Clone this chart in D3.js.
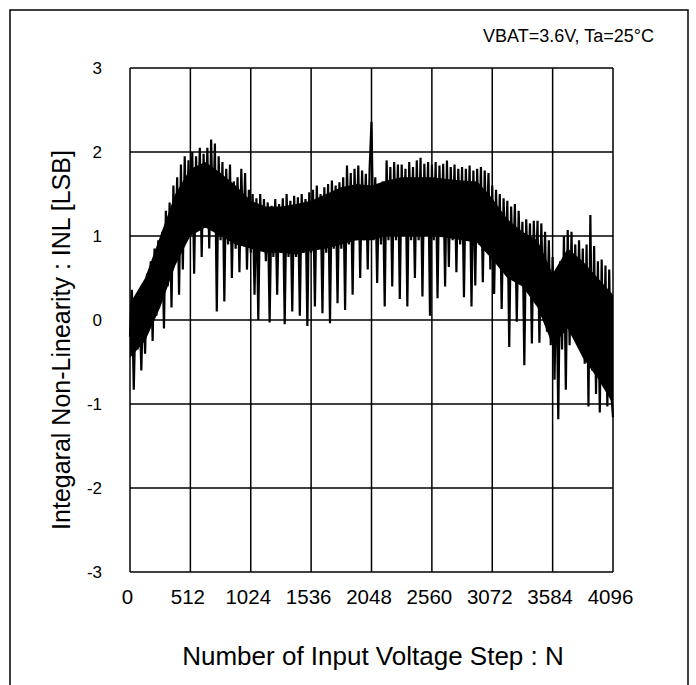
<!DOCTYPE html>
<html>
<head>
<meta charset="utf-8">
<script src="https://cdn.jsdelivr.net/npm/d3@7"></script>
<style>
  html, body { margin: 0; padding: 0; background: #fff; }
  svg { display: block; }
</style>
</head>
<body>
<svg id="chart" width="696" height="685"></svg>
<script>
// ---- data ----
// Sampled INL trace, one value every 16 input steps (peaks and spikes as read)
const stepSize = 16;
const inlValues = [
  // N = 0 .. 112
  -0.2, 0.36, -0.83, 0.22, -0.35, 0.3, -0.6, 0.3,
  // 128 .. 240
  -0.4, 0.55, -0.1, 0.7, -0.25, 0.85, 0.05, 0.95,
  // 256 ..
  0.2, 1.05, -0.1, 1.3, 0.4, 1.4, 0.15, 1.6,
  // 384 ..
  0.75, 1.7, 0.3, 1.85, 0.6, 1.95, 0.95, 1.9,
  // 512 ..
  1.05, 2.0, 0.55, 1.95, 1.1, 2.05, 0.75, 1.98,
  // 640 ..
  1.1, 2.05, 0.85, 2.15, 1.15, 2.1, 0.1, 1.95,
  // 768 ..
  0.95, 1.88, 0.22, 1.8, 0.9, 1.85, 0.5, 1.65,
  // 896 ..
  0.85, 1.7, 0.57, 1.8, 0.9, 1.75, 0.6, 1.55,
  // 1024 ..
  0.8, 1.5, 0.3, 1.45, 0.0, 1.5, 0.85, 1.44,
  // 1152 ..
  0.7, 1.4, -0.03, 1.36, 0.75, 1.44, 0.3, 1.38,
  // 1280 ..
  0.8, 1.45, -0.05, 1.5, 0.75, 1.42, 0.1, 1.48,
  // 1408 ..
  0.75, 1.46, 0.05, 1.5, 0.8, 1.44, -0.07, 1.52,
  // 1536 ..
  0.8, 1.55, 0.16, 1.6, 0.85, 1.5, 0.08, 1.58,
  // 1664 ..
  0.8, 1.62, -0.04, 1.66, 0.85, 1.6, 0.2, 1.64,
  // 1792 ..
  0.85, 1.7, 0.12, 1.84, 0.9, 1.75, 0.3, 1.8,
  // 1920 ..
  0.95, 1.84, 0.5, 1.78, 0.95, 1.74, 0.6, 1.8,
  // 2048 ..
  2.36, 0.95, 1.7, 0.44, 1.62, 0.9, 1.65, 0.16,
  // 2176 ..
  1.9, 0.95, 1.82, 0.4, 1.88, 0.95, 1.85, 0.25,
  // 2304 ..
  1.85, 1.0, 1.8, 0.16, 1.88, 0.95, 1.82, 0.5,
  // 2432 ..
  1.9, 0.95, 1.93, 0.28, 1.86, 1.0, 1.88, 0.05,
  // 2560 ..
  1.85, 0.95, 1.88, 0.26, 1.84, 1.0, 1.86, 0.4,
  // 2688 ..
  1.9, 0.63, 1.82, 0.95, 1.85, 0.57, 1.8, 0.9,
  // 2816 ..
  1.82, 0.27, 1.8, 0.95, 1.84, 0.16, 1.78, 0.41,
  // 2944 ..
  1.8, 0.9, 1.82, 0.45, 1.78, 0.95, 1.75, 0.6,
  // 3072 ..
  1.6, 0.31, 1.55, 0.7, 1.5, 0.13, 1.45, 0.7,
  // 3200 ..
  1.42, -0.32, 1.35, 0.55, 1.38, -0.02, 1.3, 0.5,
  // 3328 ..
  1.17, -0.54, 1.2, 0.45, 1.15, -0.28, 1.18, 0.4,
  // 3456 ..
  1.18, -0.27, 1.15, 0.2, 1.05, -0.14, 0.95, -0.3,
  // 3584 ..
  0.75, -0.71, 0.6, -1.18, 0.7, -0.35, 1.0, -0.83,
  // 3712 ..
  1.07, -0.3, 1.05, 0.0, 0.9, -0.2, 0.95, -0.05,
  // 3840 ..
  0.85, -0.52, 0.9, -1.03, 1.25, -0.6, 0.88, -0.88,
  // 3968 ..
  0.7, -1.1, 0.72, -0.7, 0.65, -1.03, 0.6, -0.85,
  // 4096
  -1.16
];
// Dense (solid black) core of the noisy trace, read every 128 steps
const coreStep = 128;
const coreTop = [
  0.2, 0.5, 1.0, 1.5, 1.8, 1.88, 1.75, 1.6, 1.42, 1.35, 1.35, 1.38, 1.42,
  1.5, 1.58, 1.62, 1.6, 1.66, 1.7, 1.7, 1.7, 1.68, 1.66, 1.65, 1.45, 1.2,
  1.05, 0.95, 0.55, 0.85, 0.7, 0.5, 0.3
];
const coreBottom = [
  -0.45, -0.25, 0.15, 0.65, 1.0, 1.1, 1.0, 0.9, 0.85, 0.8, 0.8, 0.78, 0.82,
  0.85, 0.9, 0.95, 0.95, 1.0, 1.0, 1.0, 1.0, 0.98, 0.95, 0.92, 0.72, 0.5,
  0.4, 0.15, -0.3, -0.1, -0.45, -0.7, -1.0
];
const xTicks = [0, 512, 1024, 1536, 2048, 2560, 3072, 3584, 4096];
const yTicks = [-3, -2, -1, 0, 1, 2, 3];
const xTitle = "Number of Input Voltage Step : N";
const yTitle = "Integaral Non-Linearity : INL [LSB]";
const note = "VBAT=3.6V, Ta=25°C";

// ---- layout ----
const svg = d3.select("#chart");
const plot = { left: 130, right: 613, top: 68, bottom: 572 };

const x = d3.scaleLinear().domain([0, 4096]).range([plot.left, plot.right]);
const y = d3.scaleLinear().domain([-3, 3]).range([plot.bottom, plot.top]);

// outer frame
svg.append("rect")
  .attr("x", 10).attr("y", 10)
  .attr("width", 678).attr("height", 690)
  .attr("fill", "none").attr("stroke", "#000").attr("stroke-width", 1.5);

// grid
const g = svg.append("g");
g.selectAll("line.vx").data(xTicks).join("line")
  .attr("x1", d => x(d)).attr("x2", d => x(d))
  .attr("y1", plot.top).attr("y2", plot.bottom)
  .attr("stroke", "#000").attr("stroke-width", 1.5);
g.selectAll("line.hy").data(yTicks).join("line")
  .attr("x1", plot.left).attr("x2", plot.right)
  .attr("y1", d => y(d)).attr("y2", d => y(d))
  .attr("stroke", "#000").attr("stroke-width", 1.5);

// dense core of the trace
const core = coreTop.map((t, i) => ({ n: i * coreStep, t, b: coreBottom[i] }));
svg.append("path")
  .datum(core)
  .attr("d", d3.area().x(d => x(d.n)).y0(d => y(d.b)).y1(d => y(d.t)))
  .attr("fill", "#000");

// data line
const pts = inlValues.map((v, i) => [i * stepSize, v]);
const line = d3.line().x(d => x(d[0])).y(d => y(d[1]));
svg.append("path")
  .datum(pts)
  .attr("d", line)
  .attr("fill", "none")
  .attr("stroke", "#000")
  .attr("stroke-width", 2.2)
  .attr("stroke-linejoin", "miter")
  .attr("stroke-miterlimit", 2);

const fmt = d => String(d);   // plain hyphen-minus as in the reference

// axes (labels only)
const xAxis = d3.axisBottom(x).tickValues(xTicks).tickSize(0).tickPadding(0).tickFormat(fmt);
const gx = svg.append("g").attr("transform", `translate(-3,${plot.bottom + 32})`).call(xAxis);
gx.select(".domain").remove();
gx.selectAll("text")
  .attr("dy", 0)
  .attr("font-family", "'Liberation Sans', Arial, sans-serif")
  .attr("font-size", 20.5)
  .attr("fill", "#000");

const yAxis = d3.axisLeft(y).tickValues(yTicks).tickSize(0).tickPadding(0).tickFormat(fmt);
const gy = svg.append("g").attr("transform", `translate(${plot.left - 28},0)`).call(yAxis);
gy.select(".domain").remove();
gy.selectAll("text")
  .attr("dy", "0.35em")
  .attr("font-family", "'Liberation Sans', Arial, sans-serif")
  .attr("font-size", 17)
  .attr("fill", "#000");

// titles
svg.append("text")
  .attr("x", 373).attr("y", 665)
  .attr("text-anchor", "middle")
  .attr("font-family", "'Liberation Sans', Arial, sans-serif")
  .attr("font-size", 26)
  .text(xTitle);

svg.append("text")
  .attr("transform", "translate(70,340) rotate(-90)")
  .attr("text-anchor", "middle")
  .attr("font-family", "'Liberation Sans', Arial, sans-serif")
  .attr("font-size", 25)
  .text(yTitle);

svg.append("text")
  .attr("x", 654).attr("y", 42)
  .attr("text-anchor", "end")
  .attr("font-family", "'Liberation Sans', Arial, sans-serif")
  .attr("font-size", 18)
  .text(note);
</script>
</body>
</html>
